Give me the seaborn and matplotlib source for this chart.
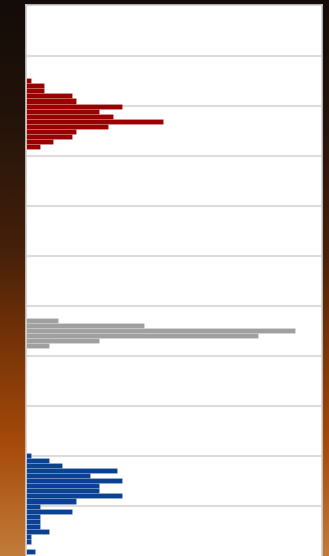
import numpy as np
import pandas as pd
import matplotlib.pyplot as plt
import matplotlib.colors as mcolors
import seaborn as sns

# bin counts for the three groups, listed from the lowest bin upwards
red_counts = [3, 6, 10, 11, 18, 30, 19, 16, 21, 11, 10, 4, 4, 1]
gray_counts = [5, 16, 51, 59, 26, 7]
blue_counts = [2, 0, 1, 1, 5, 3, 3, 3, 10, 3, 11, 21, 16, 16, 21, 14, 20, 8, 5, 1]

# lower edge of the first bin of each group and the common bin width
red_start = 8.14
gray_start = 4.16
blue_start = 0.04
bin_width = 0.101

colors = {"red": "#9b0000", "gray": "#a0a0a0", "blue": "#0b4193"}

frames = []
for name, start, counts in [("red", red_start, red_counts),
                            ("gray", gray_start, gray_counts),
                            ("blue", blue_start, blue_counts)]:
    centers = start + bin_width * (np.arange(len(counts)) + 0.5)
    frames.append((name, start, pd.DataFrame({"value": centers, "count": counts})))

sns.set_style("white")
fig = plt.figure(figsize=(3.29, 5.56), dpi=100)

# background gradient
bg = fig.add_axes([0, 0, 1, 1], zorder=-5)
cmap = mcolors.LinearSegmentedColormap.from_list(
    "bg", [(0.0, "#140c08"), (0.2, "#22130a"), (0.45, "#45200a"),
           (0.62, "#783408"), (0.8, "#a64a0a"), (1.0, "#c27c3a")])
bg.imshow(np.linspace(0, 1, 256).reshape(-1, 1), aspect="auto", cmap=cmap,
          extent=[0, 1, 0, 1], origin="upper")
bg.set_axis_off()

ax = fig.add_axes([26 / 329, 0, 296 / 329, 551 / 556])
ax.set_facecolor("white")

for name, start, df in frames:
    n = len(df)
    sns.histplot(data=df, y="value", weights="count",
                 binwidth=bin_width, binrange=(start, start + bin_width * n),
                 ax=ax, color=colors[name], alpha=1,
                 edgecolor=(1, 1, 1, 0.2), linewidth=0.5)

ax.set_xlim(0, 65)
ax.set_ylim(0, 11.02)
ax.set_yticks(np.arange(1, 11))
ax.set_xticks([])
ax.yaxis.grid(True, color="#dcdcdc", linewidth=1.5)
ax.set_axisbelow(True)
ax.tick_params(left=False, labelleft=False)
ax.set_xlabel("")
ax.set_ylabel("")
for side in ["top", "right", "left"]:
    ax.spines[side].set_color("#cfcfcf")
    ax.spines[side].set_linewidth(1.2)
ax.spines["bottom"].set_visible(False)

fig.savefig("out.png", dpi=100)
